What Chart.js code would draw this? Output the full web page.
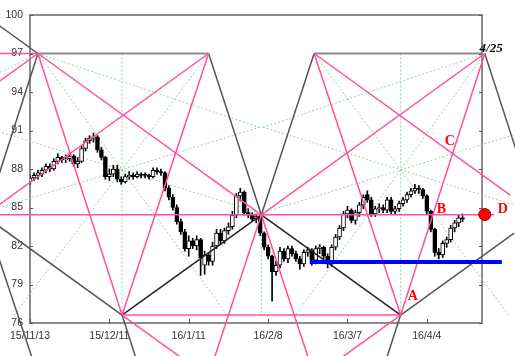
<!DOCTYPE html>
<html>
<head>
<meta charset="utf-8">
<script src="https://cdn.jsdelivr.net/npm/chart.js@4.4.1/dist/chart.umd.min.js"></script>
<style>
  body { margin: 0; background: #fff; }
</style>
</head>
<body>
<canvas id="chart" width="515" height="356"></canvas>
<script>
// x = trading-day index, 15/11/13 = 0
const tickIndex = [0, 20, 40, 60, 80, 100];
const tickDates = ['15/11/13', '15/12/11', '16/1/11', '16/2/8', '16/3/7', '16/4/4'];
const priceTicks = [76, 79, 82, 85, 88, 91, 94, 97, 100];

const opens = [87.0, 87.3, 87.5, 87.6, 87.9, 88.2, 88.0, 88.6, 88.9, 88.7,
  88.8, 89.0, 88.4, 88.6, 89.6, 90.2, 90.4, 90.5, 89.5, 88.9,
  87.4, 87.6, 88.0, 87.2, 87.0, 87.4, 87.5, 87.4, 87.6, 87.6,
  87.5, 87.4, 87.9, 87.8, 87.7, 86.5, 85.8, 85.0, 83.9, 83.1,
  81.8, 82.4, 82.0, 82.5, 80.5, 81.3, 80.8, 82.0, 83.0, 82.4,
  83.2, 83.5, 84.4, 85.9, 86.2, 84.6, 84.4, 84.1, 84.3, 83.0,
  81.9, 81.2, 80.0, 80.5, 81.6, 81.0, 81.8, 81.4, 81.0, 80.6,
  81.5, 81.7, 80.9, 81.8, 81.9, 81.2, 80.6, 81.9, 82.7, 83.4,
  84.5, 84.8, 84.0, 84.6, 85.2, 86.0, 85.6, 84.5, 84.9, 85.0,
  84.8, 85.6, 84.7, 84.9, 85.3, 85.6, 86.0, 86.3, 86.5, 86.4,
  85.9, 84.7, 83.3, 81.5, 81.3, 82.2, 82.5, 83.4, 83.8, 84.2];
const highs = [87.5, 87.7, 87.9, 88.1, 88.4, 88.4, 88.8, 89.2, 89.0, 89.1,
  89.3, 89.1, 88.9, 89.8, 90.4, 90.6, 90.8, 90.6, 89.7, 89.0,
  88.0, 88.3, 88.3, 87.4, 87.6, 87.8, 87.7, 87.8, 87.7, 87.7,
  87.6, 88.1, 88.1, 88.0, 87.8, 86.7, 86.0, 85.2, 84.1, 83.3,
  82.8, 82.6, 82.8, 82.6, 81.6, 81.5, 82.3, 83.3, 83.3, 83.4,
  83.8, 84.7, 86.1, 86.5, 86.3, 84.9, 84.6, 84.5, 84.4, 83.1,
  82.1, 81.3, 80.8, 81.9, 81.8, 82.0, 82.0, 81.6, 81.2, 81.7,
  81.9, 81.8, 82.0, 82.1, 82.0, 81.4, 82.1, 82.9, 83.6, 84.7,
  85.1, 84.9, 84.8, 85.4, 86.0, 86.3, 85.8, 85.1, 85.3, 85.2,
  85.8, 85.8, 85.1, 85.5, 85.8, 86.2, 86.5, 86.8, 86.7, 86.5,
  86.0, 84.8, 83.4, 81.8, 82.4, 82.7, 83.6, 84.0, 84.4, 84.5];
const lows = [86.8, 87.1, 87.2, 87.4, 87.7, 87.8, 87.9, 88.4, 88.5, 88.5,
  88.6, 88.2, 88.1, 88.5, 89.4, 90.0, 90.1, 89.3, 88.7, 87.2,
  87.1, 87.4, 87.0, 86.8, 86.9, 87.2, 87.2, 87.3, 87.3, 87.3,
  87.2, 87.3, 87.6, 87.5, 86.3, 85.6, 84.8, 83.7, 82.9, 81.6,
  81.2, 81.8, 81.7, 79.7, 79.8, 80.5, 80.5, 81.8, 82.1, 82.2,
  82.9, 83.3, 84.2, 85.5, 84.4, 84.2, 83.9, 83.8, 82.8, 81.7,
  81.0, 77.7, 79.7, 80.3, 80.8, 80.7, 81.2, 80.8, 80.2, 80.4,
  81.2, 80.5, 80.6, 81.4, 81.0, 80.3, 80.4, 81.7, 82.5, 83.2,
  84.2, 83.8, 83.7, 84.3, 84.9, 85.4, 84.3, 84.3, 84.6, 84.6,
  84.6, 84.5, 84.5, 84.7, 85.1, 85.4, 85.8, 86.1, 86.1, 85.7,
  84.5, 83.1, 81.2, 81.0, 81.1, 81.9, 82.3, 83.1, 83.5, 83.9];
const closes = [87.3, 87.5, 87.7, 87.9, 88.2, 88.0, 88.6, 88.9, 88.7, 88.8,
  89.0, 88.4, 88.6, 89.6, 90.2, 90.4, 90.5, 89.5, 88.9, 87.4,
  87.6, 88.0, 87.2, 87.0, 87.4, 87.5, 87.4, 87.6, 87.5, 87.5,
  87.4, 87.9, 87.8, 87.7, 86.5, 85.8, 85.0, 83.9, 83.1, 81.8,
  82.4, 82.0, 82.5, 81.1, 81.3, 80.8, 82.0, 83.0, 82.4, 83.2,
  83.5, 84.4, 85.9, 86.2, 84.6, 84.4, 84.1, 84.3, 83.0, 81.9,
  81.2, 80.0, 80.5, 81.6, 81.0, 81.8, 81.4, 81.0, 80.6, 81.5,
  81.7, 80.9, 81.8, 81.9, 81.2, 80.6, 81.9, 82.7, 83.4, 84.5,
  84.8, 84.0, 84.6, 85.2, 85.8, 85.6, 84.5, 84.9, 85.0, 84.8,
  85.6, 84.7, 84.9, 85.3, 85.6, 86.0, 86.3, 86.5, 86.4, 85.9,
  84.7, 83.3, 81.5, 81.3, 82.2, 82.5, 83.4, 83.8, 84.2, 84.1];

// geometry lines, [x1, price1, x2, price2]
const greyLines = [
  [2, 97, -8, 99.23], [2, 97, -19.2, 76.62], [23.2, 76.62, -8, 83.58],
  [-8.5, 81.65, 0.5, 73.3], [23.2, 76.62, 26.65, 73.3],
  [45.0, 97, 58.3, 84.43], [71.6, 97, 58.3, 84.43],
  [93.4, 76.62, 122, 83.0], [93.4, 76.62, 89.9, 73.3], [114.6, 97, 136, 76.62]
];
const blackLines = [[23.2, 76.62, 58.3, 84.43], [58.3, 84.43, 93.4, 76.62]];
const pinkLines = [
  [-8, 97, 2, 97], [-8, 84.43, 117, 84.43], [23.2, 76.62, 93.4, 76.62],
  [2, 97, 58.3, 84.43], [58.3, 84.43, 114.6, 97],
  [2, 97, 23.2, 76.62], [45.0, 97, 23.2, 76.62],
  [71.6, 97, 93.4, 76.62], [114.6, 97, 93.4, 76.62],
  [45.0, 97, -8, 85.17], [71.6, 97, 121, 85.97], [2, 97, -8, 94.77],
  [58.3, 84.43, 70.1, 73.3], [58.3, 84.43, 46.5, 73.3],
  [23.2, 76.62, 38.1, 73.3], [93.4, 76.62, 78.5, 73.3]
];
const greenLines = [
  [23.2, 97, 23.2, 76.62], [93.4, 97, 93.4, 76.62], [58.3, 84.43, 58.3, 76.62],
  [2, 97, 49.7, 76.62], [45.0, 97, -4.0, 76.62],
  [114.6, 97, 66.9, 76.62], [71.6, 97, 120.6, 76.62],
  [-8, 84.95, 58.3, 91.3], [-8, 90.93, 58.3, 84.55],
  [124.6, 84.95, 58.3, 91.3], [124.6, 90.93, 58.3, 84.55],
  [2, 97, 58.3, 91.2], [114.6, 97, 58.3, 91.2], [2, 97, -8, 95.46]
];
const boxTops = [[2, 97, 45.0, 97], [71.6, 97, 113.9, 97]];
const blueLine = [[70.5, 80.75, 118.9, 80.75]];
const pointD = [114.6, 84.45];
const letters = [
  { text: 'A', x: 95.2, y: 77.82 },
  { text: 'B', x: 102.5, y: 84.59 },
  { text: 'C', x: 104.5, y: 89.88 },
  { text: 'D', x: 117.9, y: 84.59 }
];
const dateNote = { text: '4/25', x: 113.3, y: 97.15 };

function segs(list, color, width, dash, order) {
  return list.map(s => ({
    type: 'line',
    data: [{ x: s[0], y: s[1] }, { x: s[2], y: s[3] }],
    borderColor: color,
    borderWidth: width,
    borderDash: dash,
    pointRadius: 0,
    tension: 0,
    clip: false,
    order: order
  }));
}

const idx = closes.map((c, i) => i);

const datasets = [
  {
    type: 'bar',
    data: idx.map(i => ({ x: i, y: [lows[i], highs[i]] })),
    backgroundColor: '#000',
    barThickness: 1,
    grouped: false,
    order: 21
  },
  {
    type: 'bar',
    data: idx.map(i => ({ x: i, y: [opens[i], closes[i]] })),
    backgroundColor: idx.map(i => closes[i] >= opens[i] ? '#fff' : '#000'),
    borderColor: '#000',
    borderWidth: 1,
    borderSkipped: false,
    barThickness: 4,
    grouped: false,
    order: 20
  },
  ...segs(greenLines, '#8fd4a8', 1, [2, 2], 25),
  ...segs(boxTops, '#8c8c8c', 2, [], 8),
  ...segs(greyLines, '#555', 1.5, [], 6),
  ...segs(blackLines, '#222', 1.5, [], 6),
  ...segs(pinkLines, '#ff4fa3', 1.5, [], 5),
  ...segs(blueLine, '#0000ff', 4, [], 3),
  {
    type: 'line',
    data: [{ x: pointD[0], y: pointD[1] }],
    showLine: false,
    pointRadius: 6,
    pointBackgroundColor: '#ff0000',
    pointBorderColor: '#900',
    pointBorderWidth: 1,
    clip: false,
    order: 1
  }
];

const decor = {
  id: 'decor',
  afterDatasetsDraw(chart) {
    const { ctx, chartArea: a, scales: { x, y } } = chart;
    ctx.save();
    ctx.strokeStyle = '#555';
    ctx.lineWidth = 1;
    ctx.beginPath();
    priceTicks.forEach(v => {
      const py = Math.round(y.getPixelForValue(v)) + 0.5;
      ctx.moveTo(a.left, py); ctx.lineTo(a.left + 3, py);
      ctx.moveTo(a.right - 3, py); ctx.lineTo(a.right, py);
    });
    tickIndex.forEach(v => {
      const px = Math.round(x.getPixelForValue(v)) + 0.5;
      ctx.moveTo(px, a.bottom); ctx.lineTo(px, a.bottom - 4);
    });
    ctx.stroke();

    ctx.fillStyle = '#ff0000';
    ctx.font = 'bold 14px "Liberation Serif"';
    ctx.textBaseline = 'alphabetic';
    letters.forEach(m => ctx.fillText(m.text, x.getPixelForValue(m.x), y.getPixelForValue(m.y)));

    ctx.fillStyle = '#000';
    ctx.font = 'bold italic 13px "Liberation Serif"';
    ctx.fillText(dateNote.text, x.getPixelForValue(dateNote.x), y.getPixelForValue(dateNote.y));
    ctx.restore();
  }
};

const font = { family: '"Liberation Sans", Arial, sans-serif', size: 10.5 };

new Chart(document.getElementById('chart'), {
  type: 'bar',
  data: { datasets: datasets },
  plugins: [decor],
  options: {
    responsive: false,
    animation: false,
    events: [],
    layout: { padding: { top: 15, right: 33, left: 0, bottom: 0 } },
    plugins: { legend: { display: false }, tooltip: { enabled: false } },
    scales: {
      x: {
        type: 'linear', position: 'bottom', min: 0, max: 113.9, offset: false,
        grid: { display: false, drawTicks: false },
        border: { color: '#8c8c8c', width: 2 },
        afterBuildTicks: s => { s.ticks = tickIndex.map(v => ({ value: v })); },
        ticks: {
          autoSkip: false, maxRotation: 0, padding: 7, color: '#333', font: font,
          callback: v => tickDates[tickIndex.indexOf(v)]
        },
        afterFit: s => { s.height = 33; }
      },
      x2: {
        type: 'linear', position: 'top', min: 0, max: 113.9,
        grid: { display: false, drawTicks: false },
        border: { color: '#8c8c8c', width: 2 },
        ticks: { display: false },
        afterFit: s => { s.height = 0; }
      },
      y: {
        type: 'linear', position: 'left', min: 76, max: 100,
        grid: { display: false, drawTicks: false },
        border: { color: '#8c8c8c', width: 2 },
        afterBuildTicks: s => { s.ticks = priceTicks.map(v => ({ value: v })); },
        ticks: { padding: 7, color: '#333', font: font },
        afterFit: s => { s.width = 30; }
      },
      y2: {
        type: 'linear', position: 'right', min: 76, max: 100,
        grid: { display: false, drawTicks: false },
        border: { color: '#8c8c8c', width: 2 },
        ticks: { display: false },
        afterFit: s => { s.width = 0; }
      }
    }
  }
});
</script>
</body>
</html>
